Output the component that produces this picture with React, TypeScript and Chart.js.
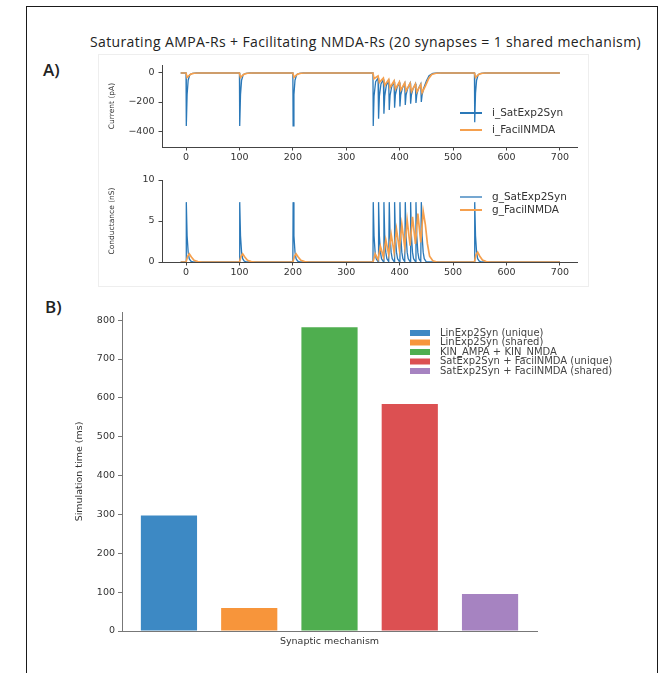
import React, { useEffect, useRef } from 'react';
import { Chart, registerables } from 'chart.js';

Chart.register(...registerables);

const PAGE_W = 664;
const PAGE_H = 673;

const FONT = "'DejaVu Sans', sans-serif";
const TEXT = '#333333';
const AXIS = '#444444';
const BLUE = '#2a78b8';
const ORANGE = '#f5a04e';

const figureTitle = 'Saturating AMPA-Rs + Facilitating NMDA-Rs (20 synapses = 1 shared mechanism)';

// ---- Panel A tick labels ----
const timeTicks = [0, 100, 200, 300, 400, 500, 600, 700];
const currentTicks = [-400, -200, 0];
const conductanceTicks = [0, 5, 10];

// ---- Panel A traces: [time (ms), value] ----
const iSatExp2Syn: [number, number][] = [
  [-10, 0], [0, 0], [0.5, -365], [2, -150], [4, -50], [7, -12], [12, -2], [20, 0],
  [100, 0], [100.5, -365], [102, -150], [104, -50], [107, -12], [112, -2], [120, 0],
  [200, 0], [200.5, -365], [202, -150], [204, -50], [207, -12], [212, -2], [220, 0],
  [350, 0], [350.5, -365], [352, -160], [355, -60], [359.5, -35],
  [360.5, -315], [362, -160], [365, -75], [369.5, -45],
  [370.5, -280], [372, -160], [375, -85], [379.5, -55],
  [380.5, -255], [382, -155], [385, -95], [389.5, -60],
  [390.5, -240], [392, -150], [395, -100], [399.5, -65],
  [400.5, -230], [402, -150], [405, -105], [409.5, -70],
  [410.5, -220], [412, -150], [415, -105], [419.5, -70],
  [420.5, -212], [422, -150], [425, -108], [429.5, -75],
  [430.5, -206], [432, -150], [435, -108], [439.5, -75],
  [440.5, -200], [442, -150], [445, -105], [450, -55], [455, -18], [462, -3], [470, 0],
  [540, 0], [540.5, -340], [542, -140], [544, -50], [547, -12], [552, -2], [560, 0],
  [700, 0],
];

const iFacilNMDA: [number, number][] = [
  [-10, 0], [0, 0], [2, -30], [5, -20], [9, -8], [15, -2], [24, 0],
  [100, 0], [102, -30], [105, -20], [109, -8], [115, -2], [124, 0],
  [200, 0], [202, -30], [205, -20], [209, -8], [215, -2], [224, 0],
  [350, 0], [352, -40], [359.5, -20], [362, -65], [369.5, -35], [372, -85], [379.5, -45],
  [382, -100], [389.5, -55], [392, -110], [399.5, -62], [402, -118], [409.5, -68],
  [412, -124], [419.5, -72], [422, -128], [429.5, -76], [432, -132], [439.5, -80],
  [442, -136], [448, -90], [454, -40], [460, -10], [468, -2], [478, 0],
  [540, 0], [542, -30], [545, -20], [549, -8], [555, -2], [564, 0],
  [700, 0],
];

const gSatExp2Syn: [number, number][] = [
  [-10, 0], [0, 0], [0.5, 7.3], [2, 3.2], [4, 1.2], [6, 0.4], [9, 0.1], [14, 0],
  [100, 0], [100.5, 7.3], [102, 3.2], [104, 1.2], [106, 0.4], [109, 0.1], [114, 0],
  [200, 0], [200.5, 7.3], [202, 3.2], [204, 1.2], [206, 0.4], [209, 0.1], [214, 0],
  [350, 0], [350.5, 7.3], [352, 3.2], [354, 1.2], [356, 0.4], [359.5, 0.05],
  [360.5, 7.3], [362, 3.2], [364, 1.2], [366, 0.4], [369.5, 0.05],
  [370.5, 7.3], [372, 3.2], [374, 1.2], [376, 0.4], [379.5, 0.05],
  [380.5, 7.3], [382, 3.2], [384, 1.2], [386, 0.4], [389.5, 0.05],
  [390.5, 7.3], [392, 3.2], [394, 1.2], [396, 0.4], [399.5, 0.05],
  [400.5, 7.3], [402, 3.2], [404, 1.2], [406, 0.4], [409.5, 0.05],
  [410.5, 7.3], [412, 3.2], [414, 1.2], [416, 0.4], [419.5, 0.05],
  [420.5, 7.3], [422, 3.2], [424, 1.2], [426, 0.4], [429.5, 0.05],
  [430.5, 7.3], [432, 3.2], [434, 1.2], [436, 0.4], [439.5, 0.05],
  [440.5, 7.3], [442, 3.2], [444, 1.2], [446, 0.4], [449.5, 0.05], [455, 0],
  [540, 0], [540.5, 7.3], [542, 3.2], [544, 1.2], [546, 0.4], [549, 0.1], [554, 0],
  [700, 0],
];

const gFacilNMDA: [number, number][] = [
  [-10, 0], [0, 0], [3, 0.7], [6, 1.0], [10, 0.6], [15, 0.2], [22, 0.04], [30, 0],
  [100, 0], [103, 0.7], [106, 1.0], [110, 0.6], [115, 0.2], [122, 0.04], [130, 0],
  [200, 0], [203, 0.7], [206, 1.0], [210, 0.6], [215, 0.2], [222, 0.04], [230, 0],
  [350, 0], [354, 1.0], [359.5, 0.3], [364, 1.9], [369.5, 0.6], [374, 2.7], [379.5, 0.9],
  [384, 3.4], [389.5, 1.2], [394, 4.0], [399.5, 1.5], [404, 4.6], [409.5, 1.8],
  [414, 5.1], [419.5, 2.0], [424, 5.5], [429.5, 2.2], [434, 5.9], [439.5, 2.4],
  [444, 6.2], [448, 4.6], [452, 2.2], [456, 0.7], [462, 0.15], [470, 0],
  [540, 0], [543, 0.9], [546, 1.2], [550, 0.7], [555, 0.25], [562, 0.05], [570, 0],
  [700, 0],
];

// ---- Panel B ----
const mechanisms = [
  'LinExp2Syn (unique)',
  'LinExp2Syn (shared)',
  'KIN_AMPA + KIN_NMDA',
  'SatExp2Syn + FacilNMDA (unique)',
  'SatExp2Syn + FacilNMDA (shared)',
];
const simulationTimes = [297, 59, 782, 584, 95];
const barColors = ['#3d89c4', '#f7953b', '#4fae4f', '#dc5052', '#a683c1'];
const simTimeTicks = [0, 100, 200, 300, 400, 500, 600, 700, 800];

const fmtMinus = (v: number) => (v < 0 ? '\u2212' + Math.abs(v) : String(v));

function lineLegend(id: string, labels: string[], colors: string[], widths: number[], x: number, ys: number[], size: number) {
  return {
    id,
    afterDraw(chart: any) {
      const ctx = chart.ctx;
      ctx.save();
      labels.forEach((label, i) => {
        ctx.strokeStyle = colors[i];
        ctx.lineWidth = widths[i];
        ctx.beginPath();
        ctx.moveTo(x, ys[i]);
        ctx.lineTo(x + 22, ys[i]);
        ctx.stroke();
        ctx.fillStyle = TEXT;
        ctx.font = `${size}px ${FONT}`;
        ctx.textBaseline = 'middle';
        ctx.fillText(label, x + 32, ys[i]);
      });
      ctx.restore();
    },
  };
}

function boxLegend(id: string, labels: string[], colors: string[], x: number, ys: number[], size: number) {
  return {
    id,
    afterDraw(chart: any) {
      const ctx = chart.ctx;
      ctx.save();
      labels.forEach((label, i) => {
        ctx.fillStyle = colors[i];
        ctx.fillRect(x, ys[i] - 3, 20, 6);
        ctx.fillStyle = '#444';
        ctx.font = `${size}px ${FONT}`;
        ctx.textBaseline = 'middle';
        ctx.fillText(label, x + 30, ys[i]);
      });
      ctx.restore();
    },
  };
}

const toXY = (arr: [number, number][]) => arr.map(([x, y]) => ({ x, y }));

function timeAxis(): any {
  return {
    type: 'linear',
    min: -45,
    max: 732,
    afterBuildTicks: (s: any) => { s.ticks = timeTicks.map((v) => ({ value: v })); },
    afterFit: (s: any) => { s.height = 20; },
    grid: { drawOnChartArea: false, drawTicks: true, tickLength: 3.5, color: AXIS },
    border: { display: true, color: AXIS, width: 1 },
    ticks: { font: { family: FONT, size: 9.5 }, color: TEXT, padding: 1.5, maxRotation: 0, autoSkip: false },
  };
}

function valueAxis(min: number, max: number, ticks: number[], title: string): any {
  return {
    type: 'linear',
    min,
    max,
    afterBuildTicks: (s: any) => { s.ticks = ticks.map((v) => ({ value: v })); },
    afterFit: (s: any) => { s.width = 55; },
    grid: { drawOnChartArea: false, drawTicks: true, tickLength: 3.5, color: AXIS },
    border: { display: true, color: AXIS, width: 1 },
    ticks: { font: { family: FONT, size: 9.5 }, color: TEXT, padding: 4, callback: (v: any) => fmtMinus(Number(v)) },
    title: { display: true, text: title, font: { family: FONT, size: 7.5 }, color: TEXT, padding: { top: 1, bottom: 0 } },
  };
}

export default function App() {
  const c1 = useRef<HTMLCanvasElement>(null);
  const c2 = useRef<HTMLCanvasElement>(null);
  const c3 = useRef<HTMLCanvasElement>(null);

  useEffect(() => {
    const charts: Chart[] = [];

    charts.push(new Chart(c1.current as HTMLCanvasElement, {
      type: 'line',
      data: {
        datasets: [
          { label: 'i_SatExp2Syn', data: toXY(iSatExp2Syn), borderColor: BLUE, borderWidth: 1.3, pointRadius: 0, tension: 0, order: 1 },
          { label: 'i_FacilNMDA', data: toXY(iFacilNMDA), borderColor: ORANGE, borderWidth: 1.7, pointRadius: 0, tension: 0, order: 0 },
        ],
      } as any,
      options: {
        responsive: false,
        animation: false,
        events: [],
        layout: { padding: { left: 107, right: 87, top: 65, bottom: 506 } },
        plugins: { legend: { display: false }, tooltip: { enabled: false } },
        scales: { x: timeAxis(), y: valueAxis(-510, 55, currentTicks, 'Current (pA)') },
      },
      plugins: [lineLegend('legA1', ['i_SatExp2Syn', 'i_FacilNMDA'], [BLUE, ORANGE], [2, 2], 460, [113, 130], 10.5)],
    }));

    charts.push(new Chart(c2.current as HTMLCanvasElement, {
      type: 'line',
      data: {
        datasets: [
          { label: 'g_SatExp2Syn', data: toXY(gSatExp2Syn), borderColor: BLUE, borderWidth: 1.3, pointRadius: 0, tension: 0, order: 1 },
          { label: 'g_FacilNMDA', data: toXY(gFacilNMDA), borderColor: ORANGE, borderWidth: 1.7, pointRadius: 0, tension: 0, order: 0 },
        ],
      } as any,
      options: {
        responsive: false,
        animation: false,
        events: [],
        layout: { padding: { left: 107, right: 87, top: 180, bottom: 391 } },
        plugins: { legend: { display: false }, tooltip: { enabled: false } },
        scales: { x: timeAxis(), y: valueAxis(0, 10, conductanceTicks, 'Conductance (nS)') },
      },
      plugins: [lineLegend('legA2', ['g_SatExp2Syn', 'g_FacilNMDA'], [BLUE, ORANGE], [1.3, 2], 460, [197, 210], 10.5)],
    }));

    charts.push(new Chart(c3.current as HTMLCanvasElement, {
      type: 'bar',
      data: {
        datasets: [
          {
            label: 'Simulation time (ms)',
            data: simulationTimes.map((v, i) => ({ x: i, y: v })),
            backgroundColor: barColors,
            borderWidth: 0,
            barPercentage: 0.7,
            categoryPercentage: 1,
          },
        ],
      } as any,
      options: {
        responsive: false,
        animation: false,
        events: [],
        layout: { padding: { left: 70, right: 127, top: 312, bottom: 22 } },
        plugins: { legend: { display: false }, tooltip: { enabled: false } },
        scales: {
          x: {
            type: 'linear',
            min: -0.585,
            max: 4.585,
            offset: false,
            afterFit: (s: any) => { s.height = 20; },
            grid: { display: true, drawOnChartArea: false, drawTicks: false, color: '#777' },
            border: { display: true, color: '#777', width: 1 },
            ticks: { display: false },
            title: { display: true, text: 'Synaptic mechanism', font: { family: FONT, size: 9.5 }, color: TEXT, padding: { top: 0, bottom: 4 } },
          },
          y: {
            type: 'linear',
            min: 0,
            max: 821,
            afterBuildTicks: (s: any) => { s.ticks = simTimeTicks.map((v) => ({ value: v })); },
            afterFit: (s: any) => { s.width = 52; },
            grid: { drawOnChartArea: false, drawTicks: true, tickLength: 4, color: '#777' },
            border: { display: true, color: '#777', width: 1 },
            ticks: { font: { family: FONT, size: 9.5 }, color: TEXT, padding: 3 },
            title: { display: true, text: 'Simulation time (ms)', font: { family: FONT, size: 9.5 }, color: TEXT, padding: { top: 4, bottom: 0 } },
          },
        } as any,
      },
      plugins: [boxLegend('legB', mechanisms, barColors, 410, [333, 342.5, 352, 361.5, 371], 10)],
    }));

    return () => { charts.forEach((c) => c.destroy()); };
  }, []);

  const canvasStyle: React.CSSProperties = { position: 'absolute', left: 0, top: 0, width: PAGE_W, height: PAGE_H, display: 'block' };

  return (
    <div style={{ position: 'absolute', left: 0, top: 0, width: PAGE_W, height: PAGE_H, background: '#fff', overflow: 'hidden' }}>
      <div style={{ position: 'absolute', left: 26, top: 6, width: 630, height: 720, border: '1.5px solid #1a1a1a' }} />
      <div style={{ position: 'absolute', left: 98, top: 54, width: 489, height: 231, border: '1px solid #eeeeee' }} />
      <div style={{ position: 'absolute', left: 90, top: 32, whiteSpace: 'nowrap', fontFamily: "'Open Sans', sans-serif", fontSize: 14, letterSpacing: '0.37px', color: '#222', lineHeight: '19px' }}>
        {figureTitle}
      </div>
      <div style={{ position: 'absolute', left: 43, top: 58, fontFamily: "'Open Sans', sans-serif", fontSize: 17, fontWeight: 600, color: '#222', lineHeight: '23px' }}>A)</div>
      <div style={{ position: 'absolute', left: 45, top: 295, fontFamily: "'Open Sans', sans-serif", fontSize: 17, fontWeight: 600, color: '#222', lineHeight: '23px' }}>B)</div>
      <canvas ref={c1} width={PAGE_W} height={PAGE_H} style={canvasStyle} />
      <canvas ref={c2} width={PAGE_W} height={PAGE_H} style={canvasStyle} />
      <canvas ref={c3} width={PAGE_W} height={PAGE_H} style={canvasStyle} />
    </div>
  );
}
